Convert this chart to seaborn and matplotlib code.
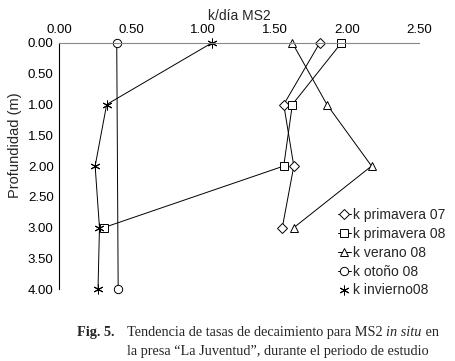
import matplotlib
matplotlib.use("Agg")
import matplotlib.pyplot as plt
import seaborn as sns
import pandas as pd

# Depth (m) and decay rates k/day for MS2
depth = [0.0, 1.0, 2.0, 3.0, 4.0]
k_primavera07 = [1.81, 1.56, 1.63, 1.55]
k_primavera08 = [1.96, 1.62, 1.56, 0.31]
k_verano08 = [1.62, 1.86, 2.17, 1.63]
k_otono08 = [0.40, 0.41]
depth_otono = [0.0, 4.0]
k_invierno08 = [1.06, 0.33, 0.25, 0.28, 0.27]

series = [
    ("k primavera 07", k_primavera07, depth[:4], "D", 5),
    ("k primavera 08", k_primavera08, depth[:4], "s", 6),
    ("k verano 08", k_verano08, depth[:4], "^", 6),
    ("k otoño 08", k_otono08, depth_otono, "o", 6),
    ("k invierno08", k_invierno08, depth, (6, 2, 0), 7),
]

sns.set_style("white")
plt.rcParams["font.family"] = ["Liberation Sans", "DejaVu Sans"]

fig = plt.figure(figsize=(4.55, 3.61), dpi=100)
ax = fig.add_axes([0.130, 0.199, 0.791, 0.682])

for name, k, d, mk, ms in series:
    df = pd.DataFrame({"k": k, "depth": d})
    sns.lineplot(data=df, x="k", y="depth", sort=False, orient="y", ax=ax,
                 color="black", linewidth=0.7, marker=mk, markersize=ms,
                 markerfacecolor="white", markeredgecolor="black",
                 markeredgewidth=0.7, label=name, clip_on=False)

ax.set_xlim(0, 2.5)
ax.set_ylim(4, 0)
ax.set_xticks([0, 0.5, 1.0, 1.5, 2.0, 2.5])
ax.set_yticks([0, 0.5, 1.0, 1.5, 2.0, 2.5, 3.0, 3.5, 4.0])
ax.xaxis.set_major_formatter(matplotlib.ticker.FormatStrFormatter("%.2f"))
ax.yaxis.set_major_formatter(matplotlib.ticker.FormatStrFormatter("%.2f"))
ax.xaxis.tick_top()
ax.xaxis.set_label_position("top")
ax.tick_params(axis="both", labelsize=9.5, length=0, colors="black")
ax.tick_params(axis="x", pad=5)
ax.tick_params(axis="y", pad=4)
ax.set_xlabel("k/día MS2", fontsize=10, labelpad=3)
ax.set_ylabel("Profundidad (m)", fontsize=10.5)
ax.yaxis.set_label_coords(-0.103, 0.585)

for s in ["right", "bottom"]:
    ax.spines[s].set_visible(False)
ax.spines["top"].set_color("#888888")
ax.spines["top"].set_linewidth(0.8)
ax.spines["left"].set_color("black")
ax.spines["left"].set_linewidth(0.8)

leg = ax.legend(loc="upper left", bbox_to_anchor=(0.743, 0.424), bbox_transform=fig.transFigure,
                frameon=False, fontsize=10, handlelength=0.9, handletextpad=0.15,
                labelspacing=0.35, borderaxespad=0, borderpad=0)
# invierno legend entry shows marker only
leg.legend_handles[4].set_linestyle("none")

# caption, with "in situ" in italics
serif = "Liberation Serif"
cap = 10.3
fig.text(0.169, 0.069, "Fig. 5.", family=serif, weight="bold", fontsize=cap)
t1 = fig.text(0.279, 0.069, "Tendencia de tasas de decaimiento para MS2 ", family=serif, fontsize=cap)
fig.canvas.draw()
r = fig.canvas.get_renderer()
x1 = t1.get_window_extent(r).x1 / fig.bbox.width
t2 = fig.text(x1, 0.069, "in situ", family=serif, style="italic", fontsize=cap)
fig.canvas.draw()
x2 = t2.get_window_extent(r).x1 / fig.bbox.width
fig.text(x2, 0.069, " en", family=serif, fontsize=cap)
fig.text(0.279, 0.017, "la presa \u201cLa Juventud\u201d, durante el periodo de estudio",
         family=serif, fontsize=cap)

plt.savefig("out.png", dpi=100)
